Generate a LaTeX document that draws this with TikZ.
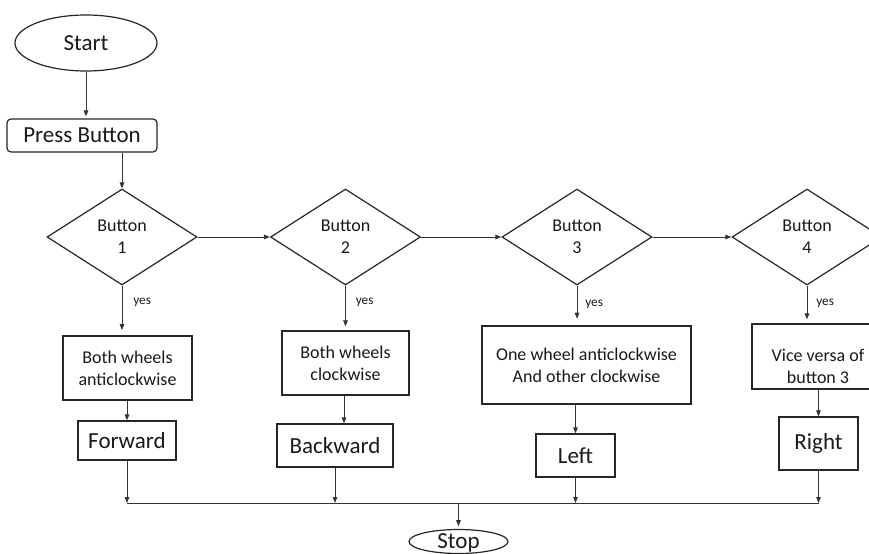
\documentclass[tikz,border=0pt]{standalone}
\usepackage{fontspec}
\setmainfont{Carlito}
\usetikzlibrary{shapes.geometric,arrows.meta}
\begin{document}
\begin{tikzpicture}[x=0.75pt,y=-0.75pt,
  every node/.style={inner sep=0pt, text=black!90},
  shapeline/.style={draw=black!85, line width=0.9pt},
  conn/.style={draw=black!80, line width=0.75pt, -{Triangle[length=4.5pt,width=3.4pt]}},
  plainline/.style={draw=black!80, line width=0.75pt},
  bigtext/.style={font=\fontsize{17.25}{20}\selectfont},
  midtext/.style={font=\fontsize{13.5}{16.5}\selectfont, align=center},
  smalltext/.style={font=\fontsize{10}{12}\selectfont},
  term/.style={shapeline, ellipse, bigtext},
  actbox/.style={shapeline, rectangle, midtext},
  resbox/.style={shapeline, rectangle, bigtext},
  decision/.style={shapeline, diamond, midtext, aspect=1.5625,
     minimum width=150*0.75pt, minimum height=96*0.75pt},
]
\clip (0,0) rectangle (869,554);

% start and press
\node[term, minimum width=142*0.75pt, minimum height=56*0.75pt] (start) at (86,43) {Start};
\node[shapeline, rounded corners=3pt, bigtext, minimum width=150*0.75pt, minimum height=33*0.75pt] (press) at (82,135.5) {Press Button};

% decisions
\node[decision] (d1) at (122,237) {Button\\1};
\node[decision] (d2) at (345.5,237) {Button\\2};
\node[decision] (d3) at (577,237) {Button\\3};
\node[decision] (d4) at (807,237) {Button\\4};

% action boxes
\node[actbox, minimum width=129*0.75pt, minimum height=64*0.75pt] (b1) at (127.5,368) {Both wheels\\anticlockwise};
\node[actbox, minimum width=127*0.75pt, minimum height=64*0.75pt] (b2) at (345.5,363) {Both wheels\\clockwise};
\node[actbox, minimum width=209*0.75pt, minimum height=78*0.75pt] (b3) at (586.5,365) {One wheel anticlockwise\\And other clockwise};
\node[actbox, minimum width=132*0.75pt, minimum height=65*0.75pt,
  label={[name=b4text, midtext, yshift=-10*0.75pt]center:Vice versa of\\button 3}] (b4) at (818,356.5) {};

% results
\node[resbox, minimum width=98*0.75pt, minimum height=39*0.75pt] (r1) at (127,440.5) {Forward};
\node[resbox, minimum width=116*0.75pt, minimum height=43*0.75pt] (r2) at (335,445.5) {Backward};
\node[resbox, minimum width=79*0.75pt, minimum height=43*0.75pt] (r3) at (575.5,455.5) {Left};
\node[resbox, minimum width=79*0.75pt, minimum height=53*0.75pt] (r4) at (818.5,443.5) {Right};

% stop
\node[term, minimum width=99*0.75pt, minimum height=24*0.75pt, text height=14*0.75pt, text depth=0pt] (stop) at (458.5,541.5) {Stop};

% connectors
\draw[conn, shorten >=1.5pt] (start.south) -- (start.south |- press.north);
\draw[conn] (d1.north |- press.south) -- (d1.north);
\draw[conn] (d1.east) -- (d2.west);
\draw[conn] (d2.east) -- (d3.west);
\draw[conn] (d3.east) -- (d4.west);

\draw[conn, shorten >=4pt] (d1.south) -- (d1.south |- b1.north);
\draw[conn, shorten >=3pt] (d2.south) -- (d2.south |- b2.north);
\draw[conn, shorten >=5pt] (d3.south) -- (d3.south |- b3.north);
\draw[conn, shorten >=3pt] (d4.south) -- (d4.south |- b4.north);

\node[smalltext, anchor=west] (y1) at ([shift={(11,17)}]d1.south) {yes};
\node[smalltext, anchor=west] (y2) at ([shift={(10,17)}]d2.south) {yes};
\node[smalltext, anchor=west] (y3) at ([shift={(8,19)}]d3.south) {yes};
\node[smalltext, anchor=west] (y4) at ([shift={(9,18)}]d4.south) {yes};

\draw[conn] (r1.north |- b1.south) -- (r1.north);
\draw[conn] ([xshift=9*0.75pt]r2.north |- b2.south) -- ([xshift=9*0.75pt]r2.north);
\draw[conn] (r3.north |- b3.south) -- (r3.north);
\draw[conn] (r4.north |- b4.south) -- (r4.north);

\coordinate (bus) at (458.5,503);
\draw[conn] (r1.south) -- (r1.south |- bus);
\draw[conn] (r2.south) -- (r2.south |- bus);
\draw[conn] (r3.south) -- (r3.south |- bus);
\draw[conn] (r4.south) -- (r4.south |- bus);
\draw[plainline] (r1.south |- bus) -- (r4.south |- bus);
\draw[conn, shorten >=2pt] (bus) -- (stop.north);
\end{tikzpicture}
\end{document}
